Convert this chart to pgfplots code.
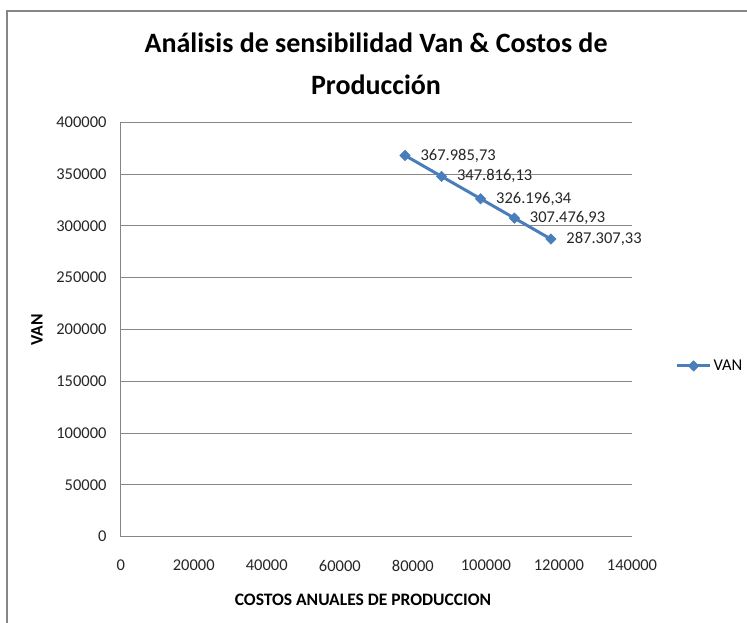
\documentclass[border=0pt]{standalone}
\usepackage{pgfplots}
\pgfplotsset{compat=1.18}
\usepackage{fontspec}
\setmainfont{Carlito}
\definecolor{serie}{RGB}{74,126,187}
\definecolor{rejilla}{RGB}{134,134,134}

\begin{document}
\begin{tikzpicture}
  % marco del grafico (cortado a la derecha y abajo)
  \draw[rejilla, line width=1.2bp] (7bp,-20bp) -- (7bp,612bp) -- (770bp,612bp);

  \node[font=\bfseries\fontsize{28bp}{32bp}\selectfont, anchor=base] at (376bp,570bp)
    {Análisis de sensibilidad Van \& Costos de};
  \node[font=\bfseries\fontsize{28bp}{32bp}\selectfont, anchor=base] at (376bp,528bp)
    {Producción};

  \begin{axis}[
      at={(120.7bp,86.3bp)}, anchor=south west,
      scale only axis,
      width=511.3bp, height=414.4bp,
      xmin=0, xmax=140000, ymin=0, ymax=400000,
      xtick distance=20000, ytick distance=50000,
      scaled ticks=false,
      /pgf/number format/.cd, fixed, set thousands separator={}, assume math mode=true,
      /pgfplots/.cd,
      axis lines=left,
      axis line style={-, rejilla, line width=1bp},
      major tick length=0pt,
      ymajorgrids,
      grid style={rejilla, line width=1bp},
      tick label style={font=\fontsize{16.5bp}{19bp}\selectfont, text=black!85},
      xticklabel style={anchor=center, inner sep=0pt, yshift=-29bp},
      yticklabel style={anchor=east, inner sep=0pt, xshift=-14bp},
      legend style={at={(1.079,0.412)}, anchor=west, draw=none, fill=none,
        font=\fontsize{16.5bp}{19bp}\selectfont},
      legend image code/.code={
        \draw[mark repeat=2, mark phase=2] plot coordinates {(0bp,0bp) (16.5bp,0bp) (33bp,0bp)};},
      point meta=explicit symbolic,
      nodes near coords,
      every node near coord/.style={anchor=west, xshift=12bp, yshift=0bp,
        font=\fontsize{16.5bp}{19bp}\selectfont, text=black!85},
      clip=false,
    ]
    \addplot[serie, line width=3bp, mark=square*,
      mark options={rotate=45, mark size=3.7bp, fill=serie, line width=0.5bp}]
      table[meta=label] {
        x       y          label
        77850   367985.73  367.985,73
        87835   347816.13  347.816,13
        98540   326196.34  326.196,34
        107805  307476.93  307.476,93
        117790  287307.33  287.307,33
      };
    \legend{VAN}
  \end{axis}

  \node[font=\bfseries\fontsize{17.5bp}{20bp}\selectfont] at (363bp,23bp)
    {COSTOS ANUALES DE PRODUCCION};
  \node[font=\bfseries\fontsize{17.5bp}{20bp}\selectfont, rotate=90] at (37bp,293bp) {VAN};

  \pgfresetboundingbox
  \useasboundingbox (0bp,0bp) rectangle (747bp,623bp);
\end{tikzpicture}
\end{document}
